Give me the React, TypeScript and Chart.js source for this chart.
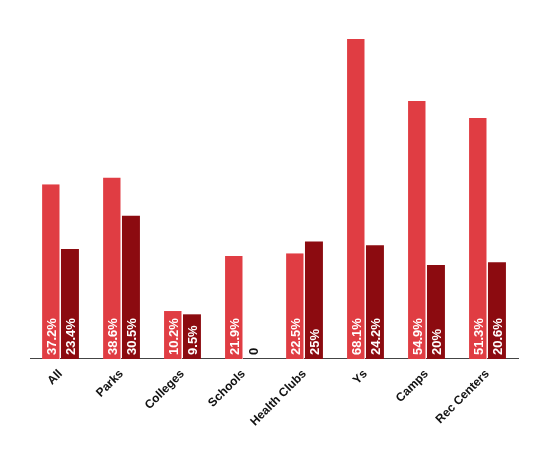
import React, { useEffect, useRef } from "react";
import { Chart, registerables } from "chart.js";

Chart.register(...registerables);

const categories = ["All", "Parks", "Colleges", "Schools", "Health Clubs", "Ys", "Camps", "Rec Centers"];
const seriesA = [37.2, 38.6, 10.2, 21.9, 22.5, 68.1, 54.9, 51.3];
const seriesB = [23.4, 30.5, 9.5, 0, 25, 24.2, 20, 20.6];
const colorA = "#e03d43";
const colorB = "#8c0b10";

const labelFont = "bold 13px Arial, 'Liberation Sans', sans-serif";

const valueLabelPlugin = {
  id: "valueLabels",
  afterDatasetsDraw(chart: any) {
    const ctx = chart.ctx;
    const base = chart.scales.y.getPixelForValue(0);
    chart.data.datasets.forEach((ds: any, di: number) => {
      const meta = chart.getDatasetMeta(di);
      meta.data.forEach((bar: any, i: number) => {
        const v = ds.data[i];
        const text = v === 0 ? "0" : v + "%";
        ctx.save();
        ctx.translate(bar.x, base - 4);
        ctx.rotate(-Math.PI / 2);
        ctx.font = labelFont;
        ctx.fillStyle = v === 0 ? "#111" : "#ffffff";
        ctx.textAlign = "left";
        ctx.textBaseline = "middle";
        ctx.fillText(text, 0, 1);
        ctx.restore();
      });
    });
  },
};

export default function App() {
  const ref = useRef<HTMLCanvasElement>(null);
  useEffect(() => {
    if (!ref.current) return;
    const chart = new Chart(ref.current, {
      type: "bar",
      data: {
        labels: categories,
        datasets: [
          { data: seriesA, backgroundColor: colorA, borderColor: "#f0a0a4", borderWidth: { top: 0, left: 0, right: 1, bottom: 0 } as any },
          { data: seriesB, backgroundColor: colorB, borderWidth: 0 },
        ],
      },
      options: {
        responsive: false,
        animation: false,
        maintainAspectRatio: false,
        layout: { padding: { top: 31, left: 22, right: 24, bottom: 17 } },
        plugins: { legend: { display: false }, tooltip: { enabled: false } },
        datasets: { bar: { categoryPercentage: 0.62, barPercentage: 0.95 } },
        scales: {
          y: { display: false, min: 0, max: Math.max(...seriesA, ...seriesB) },
          x: {
            grid: { display: false, drawTicks: false },
            border: { color: "#444", width: 1 },
            ticks: {
              color: "#111",
              font: { family: "Arial, 'Liberation Sans', sans-serif", size: 12, weight: "bold" },
              maxRotation: 45,
              minRotation: 45,
              padding: 8,
            },
          },
        },
      },
      plugins: [valueLabelPlugin],
    });
    return () => chart.destroy();
  }, []);
  return <canvas ref={ref} width={534} height={446} style={{ display: "block" }} />;
}
